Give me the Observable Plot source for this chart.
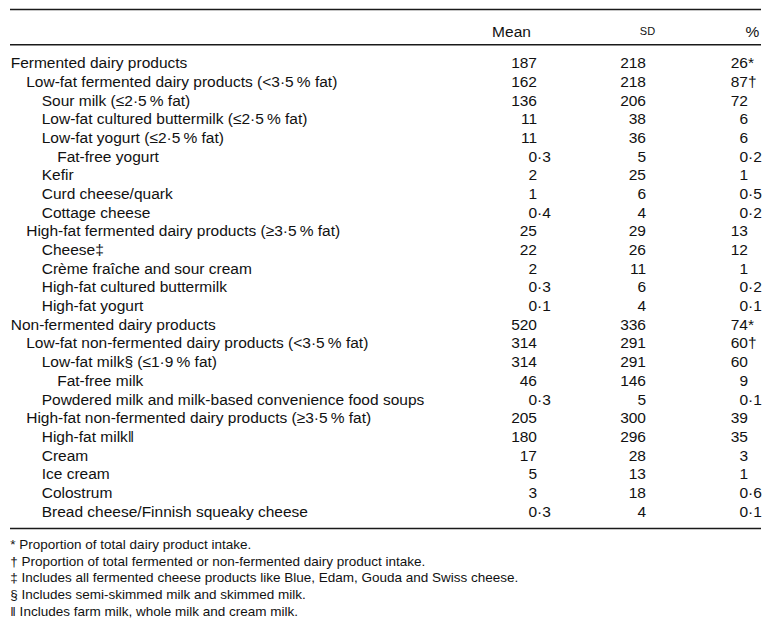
<!DOCTYPE html>
<html>
<head>
<meta charset="utf-8">
<script src="https://cdn.jsdelivr.net/npm/d3@7"></script>
<script src="https://cdn.jsdelivr.net/npm/@observablehq/plot@0.6"></script>
<style>
  html, body { margin: 0; padding: 0; background: #fff; }
  #notes { font-family: "Liberation Sans", Arial, sans-serif; font-size: 13.5px; line-height: 16.6px; color: #111; padding: 5.2px 0 0 10.3px; white-space: nowrap; }
</style>
</head>
<body>
<div id="chart"></div>
<div id="notes"></div>
<script>
// ---- Data ----
const rowLabels = [
  "Fermented dairy products",
  "Low-fat fermented dairy products (<3\u00B75\u2009% fat)",
  "Sour milk (\u22642\u00B75\u2009% fat)",
  "Low-fat cultured buttermilk (\u22642\u00B75\u2009% fat)",
  "Low-fat yogurt (\u22642\u00B75\u2009% fat)",
  "Fat-free yogurt",
  "Kefir",
  "Curd cheese/quark",
  "Cottage cheese",
  "High-fat fermented dairy products (\u22653\u00B75\u2009% fat)",
  "Cheese\u2021",
  "Cr\u00E8me fra\u00EEche and sour cream",
  "High-fat cultured buttermilk",
  "High-fat yogurt",
  "Non-fermented dairy products",
  "Low-fat non-fermented dairy products (<3\u00B75\u2009% fat)",
  "Low-fat milk\u00A7 (\u22641\u00B79\u2009% fat)",
  "Fat-free milk",
  "Powdered milk and milk-based convenience food soups",
  "High-fat non-fermented dairy products (\u22653\u00B75\u2009% fat)",
  "High-fat milk\u2016",
  "Cream",
  "Ice cream",
  "Colostrum",
  "Bread cheese/Finnish squeaky cheese"
];
const rowLevels = [0,1,2,2,2,3,2,2,2,1,2,2,2,2,0,1,2,3,2,1,2,2,2,2,2];
const meanValues = [187,162,136,11,11,0.3,2,1,0.4,25,22,2,0.3,0.1,520,314,314,46,0.3,205,180,17,5,3,0.3];
const sdValues   = [218,218,206,38,36,5,25,6,4,29,26,11,6,4,336,291,291,146,5,300,296,28,13,18,4];
const pctValues  = [26,87,72,6,6,0.2,1,0.5,0.2,13,12,1,0.2,0.1,74,60,60,9,0.1,39,35,3,1,0.6,0.1];
const pctMarks   = ["*","\u2020","","","","","","","","","","","","","*","\u2020","","","","","","","","",""];
const columnHeaders = ["Mean", "SD", "%"];
const footnotes = [
  "* Proportion of total dairy product intake.",
  "\u2020 Proportion of total fermented or non-fermented dairy product intake.",
  "\u2021 Includes all fermented cheese products like Blue, Edam, Gouda and Swiss cheese.",
  "\u00A7 Includes semi-skimmed milk and skimmed milk.",
  "\u2016 Includes farm milk, whole milk and cream milk."
];

// ---- Layout (styles/positions) ----
const W = 773, H = 532;
const FONT = "'Liberation Sans', Arial, Helvetica, sans-serif";
const FS = 15.5;
const LABEL_X = 10.2, INDENT = 15.5;
const MEAN_X = 536.5, SD_X = 645.5, PCT_X = 747.5;
const HEADER_ROW = -1.69;
const RULES = [-2.874, -0.985, 24.9];
const RULE_X1 = 10, RULE_X2 = 761;
const INK = "#111";

const rows = rowLabels.map((label, i) => ({
  i, label, level: rowLevels[i],
  mean: meanValues[i], sd: sdValues[i], pct: pctValues[i], mark: pctMarks[i]
}));
const intPart = v => String(Math.floor(v));
const fracPart = v => Number.isInteger(v) ? "" : "\u00B7" + String(Math.round((v % 1) * 10));

const headers = [
  {x: MEAN_X - 25.5, anchor: "start", size: FS, text: columnHeaders[0]},
  {x: SD_X + 1.5, anchor: "end", size: 11, text: columnHeaders[1]},
  {x: PCT_X + 4.5, anchor: "end", size: FS, text: columnHeaders[2]}
];

const chart = Plot.plot({
  width: W, height: H,
  margin: 0,
  style: {fontFamily: FONT, color: INK, background: "#fff"},
  x: {type: "linear", domain: [0, W], range: [0, W], axis: null},
  y: {type: "linear", domain: [0, 24], range: [62.7, 511.2], axis: null},
  marks: [
    Plot.ruleY(RULES, {x1: RULE_X1, x2: RULE_X2, stroke: "#1a1a1a", strokeWidth: 1.4}),
    Plot.text(headers, {x: "x", y: () => HEADER_ROW, text: "text", textAnchor: d => d.anchor, fontSize: d => d.size, fill: INK}),
    Plot.text(rows, {x: d => LABEL_X + d.level * INDENT, y: "i", text: "label", textAnchor: "start", fontSize: FS, fill: INK}),
    Plot.text(rows, {x: () => MEAN_X, y: "i", text: d => intPart(d.mean), textAnchor: "end", fontSize: FS, fill: INK}),
    Plot.text(rows, {x: () => MEAN_X, y: "i", text: d => fracPart(d.mean), textAnchor: "start", fontSize: FS, fill: INK}),
    Plot.text(rows, {x: () => SD_X, y: "i", text: d => intPart(d.sd), textAnchor: "end", fontSize: FS, fill: INK}),
    Plot.text(rows, {x: () => PCT_X, y: "i", text: d => intPart(d.pct), textAnchor: "end", fontSize: FS, fill: INK}),
    Plot.text(rows, {x: () => PCT_X, y: "i", text: d => fracPart(d.pct) + d.mark, textAnchor: "start", fontSize: FS, fill: INK})
  ]
});
document.getElementById("chart").appendChild(chart);
const notes = document.getElementById("notes");
footnotes.forEach(t => { const div = document.createElement("div"); div.textContent = t; notes.appendChild(div); });
</script>
</body>
</html>
